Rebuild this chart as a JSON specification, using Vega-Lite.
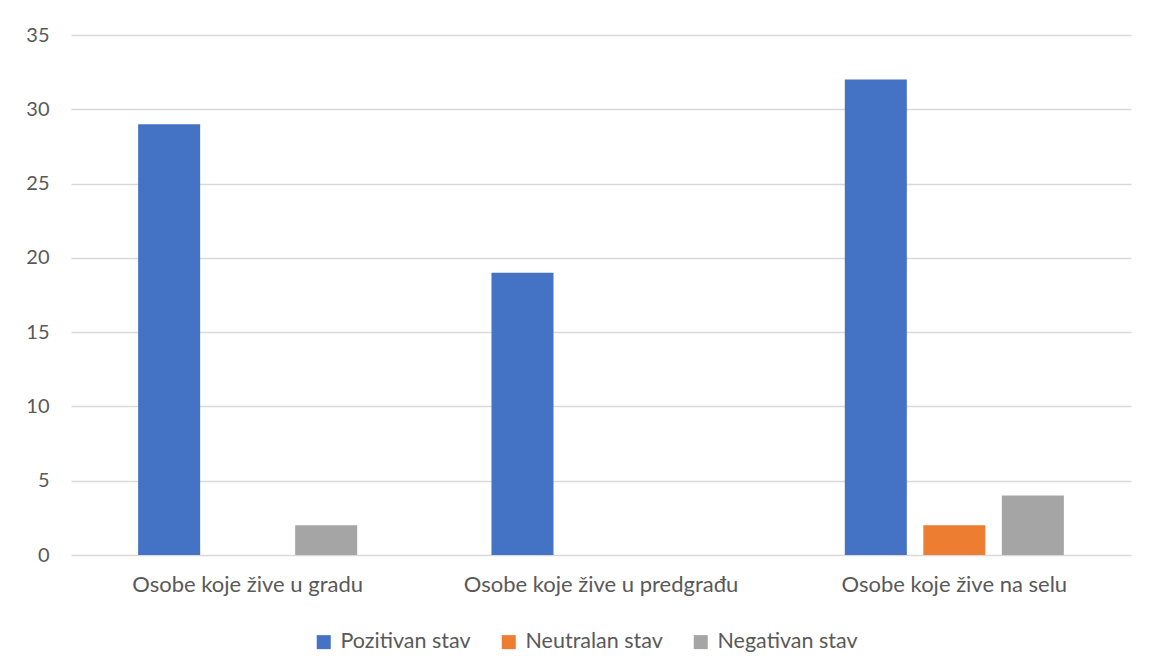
{
  "$schema": "https://vega.github.io/schema/vega-lite/v6.json",
  "autosize": "none",
  "width": 1060,
  "height": 520,
  "padding": {"left": 71, "top": 35, "right": 21, "bottom": 116},
  "background": "white",
  "config": {
    "font": "Lato",
    "view": {"stroke": null}
  },
  "data": {
    "values": [
      {"grupa": "Osobe koje žive u gradu", "stav": "Pozitivan stav", "broj": 29},
      {"grupa": "Osobe koje žive u gradu", "stav": "Neutralan stav", "broj": 0},
      {"grupa": "Osobe koje žive u gradu", "stav": "Negativan stav", "broj": 2},
      {"grupa": "Osobe koje žive u predgrađu", "stav": "Pozitivan stav", "broj": 19},
      {"grupa": "Osobe koje žive u predgrađu", "stav": "Neutralan stav", "broj": 0},
      {"grupa": "Osobe koje žive u predgrađu", "stav": "Negativan stav", "broj": 0},
      {"grupa": "Osobe koje žive na selu", "stav": "Pozitivan stav", "broj": 32},
      {"grupa": "Osobe koje žive na selu", "stav": "Neutralan stav", "broj": 2},
      {"grupa": "Osobe koje žive na selu", "stav": "Negativan stav", "broj": 4}
    ]
  },
  "mark": {"type": "bar"},
  "encoding": {
    "x": {
      "field": "grupa", "type": "nominal", "sort": null,
      "scale": {"paddingInner": 0, "paddingOuter": 0},
      "axis": {"title": null, "labelAngle": 0, "ticks": false, "domain": false, "grid": false, "labelPadding": 19, "labelFont": "Lato", "labelFontSize": 22, "labelColor": "#595959", "labelLimit": 0}
    },
    "xOffset": {
      "field": "stav", "type": "nominal", "sort": ["Pozitivan stav", "Neutralan stav", "Negativan stav"],
      "scale": {"paddingInner": 0.21, "paddingOuter": 0.855}
    },
    "y": {
      "field": "broj", "type": "quantitative",
      "scale": {"domain": [0, 35]},
      "axis": {"title": null, "values": [0, 5, 10, 15, 20, 25, 30, 35], "ticks": false, "domain": false, "gridColor": "#d9d9d9", "gridWidth": 1.3, "labelPadding": 22, "labelFont": "Lato", "labelFontSize": 20, "labelColor": "#595959"}
    },
    "color": {
      "field": "stav", "type": "nominal",
      "sort": ["Pozitivan stav", "Neutralan stav", "Negativan stav"],
      "scale": {"domain": ["Pozitivan stav", "Neutralan stav", "Negativan stav"], "range": ["#4472C4", "#ED7D31", "#A5A5A5"]},
      "legend": {
        "title": null, "orient": "none", "direction": "horizontal",
        "legendX": 242, "legendY": 596,
        "symbolType": "square", "symbolSize": 196, "symbolStrokeWidth": 0,
        "labelFont": "Lato", "labelFontSize": 21.5, "labelColor": "#595959",
        "labelOffset": 6, "columnPadding": 27, "labelLimit": 0
      }
    }
  }
}
